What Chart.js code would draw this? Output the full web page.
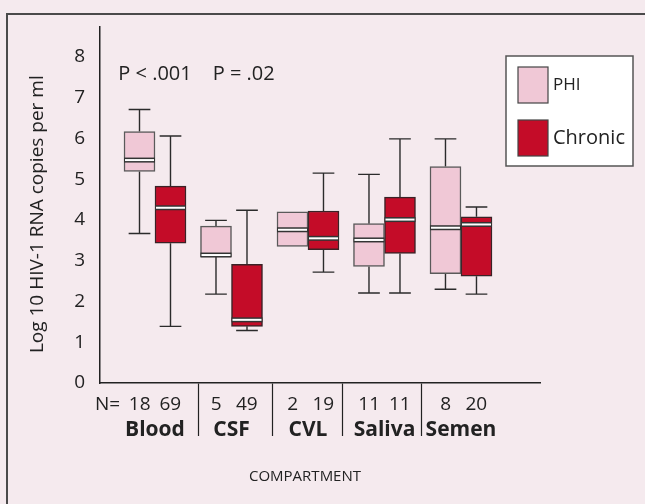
<!DOCTYPE html>
<html lang="en">
<head>
  <meta charset="UTF-8">
  <title>HIV-1 RNA by compartment</title>
  <script src="https://cdn.jsdelivr.net/npm/chart.js"></script>
  <style>
    html, body {
      margin: 0;
      padding: 0;
      width: 645px;
      height: 504px;
      background-color: #f5eaee;
      overflow: hidden;
    }
    .rule {
      position: absolute;
      background-color: #4a4a4a;
    }
    #rule-top { left: 6px; top: 13px; width: 639px; height: 2px; }
    #rule-left { left: 6px; top: 13px; width: 2px; height: 491px; }
    #chart-container {
      position: absolute;
      left: 0;
      top: 0;
      width: 645px;
      height: 504px;
    }
  </style>
</head>
<body>
  <div class="rule" id="rule-top"></div>
  <div class="rule" id="rule-left"></div>
  <div id="chart-container">
    <canvas id="boxChart" width="645" height="504"></canvas>
  </div>

  <script>
    // compartments and sample sizes
    const compartments = ['Blood', 'CSF', 'CVL', 'Saliva', 'Semen'];
    const nPhi = [18, 5, 2, 11, 8];
    const nChronic = [69, 49, 19, 11, 20];

    // box plot values, log10 copies/ml
    const phiMin = [3.67, 2.18, 3.35, 2.21, 2.30];
    const phiQ1  = [5.19, 3.10, 3.35, 2.86, 2.68];
    const phiMed = [5.47, 3.14, 3.76, 3.51, 3.81];
    const phiQ3  = [6.17, 3.85, 4.20, 3.91, 5.31];
    const phiMax = [6.71, 3.99, 4.20, 5.12, 5.99];

    const chrMin = [1.39, 1.29, 2.72, 2.21, 2.18];
    const chrQ1  = [3.43, 1.39, 3.27, 3.18, 2.62];
    const chrMed = [4.30, 1.55, 3.55, 4.01, 3.89];
    const chrQ3  = [4.83, 2.91, 4.22, 4.56, 4.08];
    const chrMax = [6.06, 4.24, 5.15, 5.99, 4.32];

    const yTicks = [0, 1, 2, 3, 4, 5, 6, 7, 8];
    const pLabels = ['P < .001', 'P = .02'];
    const pAtX = [1, 2.16];
    const pAtY = 7.58;

    // divider marks between the compartment labels (x units)
    const dividers = [1.575, 2.53, 3.445, 4.49];

    const FONT = '"Open Sans", sans-serif';
    const PHI_COLOR = '#f0c8d6';
    const CHRONIC_COLOR = '#c40c28';
    const INK = '#222';

    // where the N labels sit relative to each category centre
    const pairOffset = 0.2;
    const nLabelX = 0.38;

    // whiskers (behind) and medians (on top) for the floating bars
    const series = [
      { min: phiMin, med: phiMed, q1: phiQ1, q3: phiQ3, max: phiMax },
      { min: chrMin, med: chrMed, q1: chrQ1, q3: chrQ3, max: chrMax }
    ];

    const boxPlot = {
      id: 'boxPlot',
      beforeDatasetsDraw(chart) {
        const ctx = chart.ctx;
        const y = chart.scales.y;
        ctx.save();
        ctx.strokeStyle = '#2b2b2b';
        ctx.lineWidth = 1.4;
        series.forEach(function(s, d) {
          chart.getDatasetMeta(d).data.forEach(function(bar, i) {
            const p = bar.getProps(['x', 'width'], true);
            const cap = p.width * 0.35;
            const ends = [[s.q3[i], s.max[i]], [s.q1[i], s.min[i]]];
            ends.forEach(function(e) {
              if (e[0] === e[1]) return;
              const y0 = y.getPixelForValue(e[0]);
              const y1 = y.getPixelForValue(e[1]);
              ctx.beginPath();
              ctx.moveTo(p.x, y0);
              ctx.lineTo(p.x, y1);
              ctx.moveTo(p.x - cap, y1);
              ctx.lineTo(p.x + cap, y1);
              ctx.stroke();
            });
          });
        });
        ctx.restore();
      },
      afterDatasetsDraw(chart) {
        const ctx = chart.ctx;
        const y = chart.scales.y;
        ctx.save();
        series.forEach(function(s, d) {
          chart.getDatasetMeta(d).data.forEach(function(bar, i) {
            const p = bar.getProps(['x', 'width'], true);
            const ym = y.getPixelForValue(s.med[i]);
            ctx.fillStyle = '#333';
            ctx.fillRect(p.x - p.width / 2, ym - 2.5, p.width, 5);
            ctx.fillStyle = '#fff';
            ctx.fillRect(p.x - p.width / 2 + 1, ym - 1, p.width - 2, 2);
          });
        });
        // p values above Blood and CSF
        ctx.fillStyle = INK;
        ctx.font = '20px ' + FONT;
        ctx.textAlign = 'center';
        ctx.textBaseline = 'middle';
        pLabels.forEach(function(t, i) {
          ctx.fillText(t, chart.scales.x.getPixelForValue(pAtX[i]), y.getPixelForValue(pAtY));
        });
        ctx.restore();
      }
    };

    // boxed legend in the upper right
    const boxedLegend = {
      id: 'boxedLegend',
      afterDraw(chart) {
        const ctx = chart.ctx;
        const left = chart.width - 139, top = 56, w = 127, h = 110;
        ctx.save();
        ctx.fillStyle = '#fff';
        ctx.fillRect(left, top, w, h);
        ctx.strokeStyle = '#555';
        ctx.lineWidth = 1.5;
        ctx.strokeRect(left, top, w, h);
        const sizes = [17, 20];
        chart.data.datasets.forEach(function(ds, i) {
          const sy = top + 11 + i * 53;
          ctx.fillStyle = ds.backgroundColor;
          ctx.fillRect(left + 12, sy, 30, 36);
          ctx.strokeStyle = '#444';
          ctx.lineWidth = 1.2;
          ctx.strokeRect(left + 12, sy, 30, 36);
          ctx.fillStyle = INK;
          ctx.font = sizes[i] + 'px ' + FONT;
          ctx.textBaseline = 'middle';
          ctx.fillText(ds.label, left + 47, sy + 18);
        });
        ctx.restore();
      }
    };

    const ctx = document.getElementById('boxChart').getContext('2d');
    new Chart(ctx, {
      type: 'bar',
      data: {
        datasets: [
          {
            label: 'PHI',
            data: compartments.map(function(c, i) { return { x: i + 1, y: [phiQ1[i], phiQ3[i]] }; }),
            backgroundColor: PHI_COLOR,
            borderColor: '#5a5a5a',
            borderWidth: 1.5,
            borderSkipped: false,
            barThickness: 31
          },
          {
            label: 'Chronic',
            data: compartments.map(function(c, i) { return { x: i + 1, y: [chrQ1[i], chrQ3[i]] }; }),
            backgroundColor: CHRONIC_COLOR,
            borderColor: '#3a2226',
            borderWidth: 1.5,
            borderSkipped: false,
            barThickness: 31
          }
        ]
      },
      options: {
        responsive: false,
        animation: false,
        layout: { padding: { left: 20, top: 23, right: 105, bottom: 0 } },
        plugins: {
          legend: { display: false },
          tooltip: { enabled: false }
        },
        scales: {
          x: {
            type: 'linear',
            offset: false,
            min: 0.281,
            max: 6.033,
            afterFit: function(s) { s.height = 121; },
            afterBuildTicks: function(scale) {
              const t = [{ value: nLabelX, text: ['N=', ''], kind: 'n' }];
              compartments.forEach(function(c, i) {
                const x = i + 1;
                t.push({ value: x - pairOffset, text: [String(nPhi[i]), ''], kind: 'n' });
                t.push({ value: x, text: ['', c], kind: 'name' });
                t.push({ value: x + pairOffset, text: [String(nChronic[i]), ''], kind: 'n' });
                if (i < dividers.length) {
                  t.push({ value: dividers[i], text: '', kind: 'sep' });
                }
              });
              scale.ticks = t;
            },
            border: { display: true, color: INK, width: 1.5 },
            grid: {
              offset: false,
              drawOnChartArea: false,
              drawTicks: true,
              tickLength: 53,
              tickWidth: 1.2,
              tickColor: function(c) { return c.tick && c.tick.kind === 'sep' ? INK : 'rgba(0,0,0,0)'; }
            },
            ticks: {
              autoSkip: false,
              maxRotation: 0,
              minRotation: 0,
              padding: -43.5,
              color: INK,
              callback: function(value, index, ticks) { return ticks[index].text; },
              font: function(c) {
                if (c.tick && c.tick.kind === 'name') {
                  return { family: FONT, size: 21, weight: 'bold', lineHeight: '25px' };
                }
                return { family: FONT, size: 19, lineHeight: '25px' };
              }
            },
            title: {
              display: true,
              text: 'COMPARTMENT\u2002\u2002\u2002\u2002',
              color: INK,
              font: { family: FONT, size: 15 },
              padding: { top: 0, bottom: 18 }
            }
          },
          y: {
            min: 0,
            max: 8.75,
            afterFit: function(s) { s.width = 80; },
            afterBuildTicks: function(scale) {
              scale.ticks = yTicks.map(function(v) { return { value: v }; });
            },
            border: { display: true, color: INK, width: 1.5 },
            grid: { drawOnChartArea: false, drawTicks: false },
            ticks: {
              padding: 15,
              color: INK,
              font: { family: FONT, size: 19 }
            },
            title: {
              display: true,
              text: 'Log 10 HIV-1 RNA copies per ml\u2002\u2002',
              color: INK,
              font: { family: FONT, size: 19 },
              padding: { top: 6, bottom: 0 }
            }
          }
        }
      },
      plugins: [boxPlot, boxedLegend]
    });
  </script>
</body>
</html>
